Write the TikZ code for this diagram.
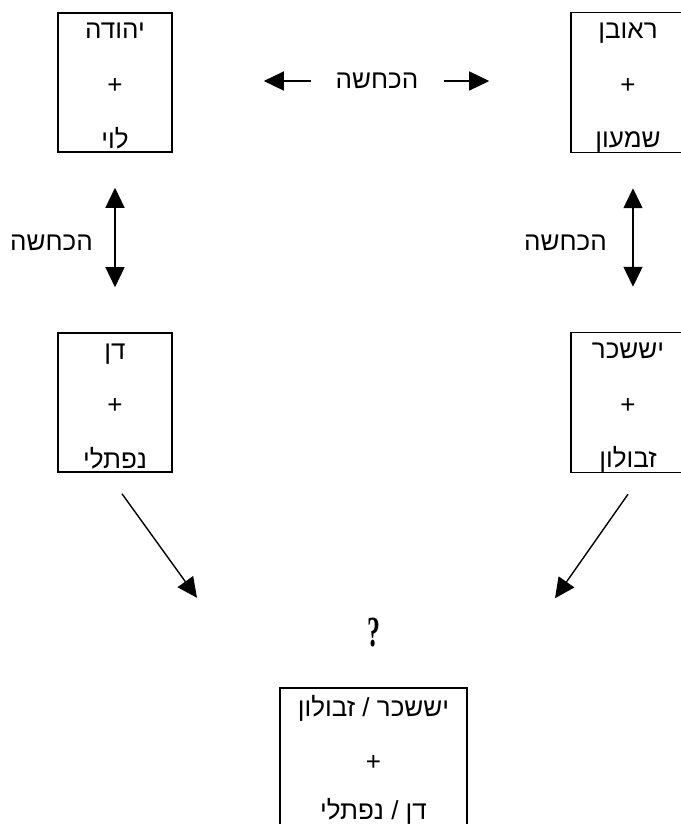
\documentclass[tikz,border=0pt]{standalone}
\usepackage{fontspec}
\setmainfont{Liberation Sans}
\newfontfamily\hebfont[Script=Hebrew]{Liberation Sans}
\newfontfamily\qfont{Liberation Serif}
\TeXXeTstate=1
\usetikzlibrary{arrows.meta,positioning,calc}
\newcommand{\HE}[1]{{\hebfont\beginR #1\endR}}
\newcommand{\GAP}{24.5pt}
\newcommand{\TRIBE}[3][\GAP]{\rule{0pt}{26pt}\HE{#2}\\[\GAP]+\\[#1]\HE{#3}\rule[-4pt]{0pt}{4pt}}

\begin{document}
\begin{tikzpicture}[x=1pt, y=-1pt,
  tribe/.style={draw, line width=1.6pt, minimum width=114pt, minimum height=139pt,
    inner sep=0pt, align=center},
  link/.style={line width=1.4pt, -{Triangle[length=20pt,width=19pt]}},
  both/.style={line width=1.4pt, {Triangle[length=20pt,width=19pt]}-{Triangle[length=20pt,width=19pt]}},
  word/.style={inner sep=0pt}]

  \fontsize{26}{30}\selectfont
  \useasboundingbox (0,0) rectangle (680,824);

  \newcommand\X{513}
  \newcommand\Y{320}

  \node[tribe] (judah) at (115, 82.5) {\TRIBE{יהודה}{לוי}};
  \node[tribe] (reuben) at (115+\X, 82.5) {\TRIBE{ראובן}{שמעון}};
  \node[tribe] (dan) at (115, 82.5+\Y) {\TRIBE{דן}{נפתלי}};
  \node[tribe] (issachar) at (115+\X, 82.5+\Y) {\TRIBE{יששכר}{זבולון}};
  \node[tribe, minimum width=187pt] (merge) at (373.5, 757.5) {\TRIBE[19pt]{יששכר / זבולון}{דן / נפתלי}};

  %% denial between the top pairs
  \node[word] (denial) at ($(judah)!0.5!(reuben)+(5.5,-1.5)$) {\HE{הכחשה}};
  \draw[link, shorten <=24pt, shorten >=91pt] (denial.west) -- (denial.west -| judah.east);
  \draw[link, shorten <=25pt, shorten >=81pt] (denial.east) -- (denial.east -| reuben.west);

  %% denial down each side
  \coordinate (ltop) at (judah.south);
  \coordinate (lbot) at (dan.north);
  \coordinate (rtop) at ([xshift=5pt]reuben.south);
  \coordinate (rbot) at ([xshift=5pt]issachar.north);
  \coordinate (lmid) at ($(ltop)!0.5!(lbot)$);
  \coordinate (rmid) at ($(rtop)!0.5!(rbot)$);
  \draw[both, shorten <=35pt, shorten >=45pt] (ltop) -- (lbot);
  \draw[both, shorten <=35pt, shorten >=45pt] (rtop) -- (rbot);
  \node[word, left=22pt of lmid] (denleft) {\HE{הכחשה}};
  \node[word, left=26pt of rmid] (denright) {\HE{הכחשה}};

  %% towards the open question
  \node[word] (query) at ($(merge.north)+(0,-55)$) {\qfont\bfseries\fontsize{43}{43}\selectfont\scalebox{0.6}[1]{?}};
  \draw[link] ([shift={(7,21)}]dan.south) -- ++(75,104);
  \draw[link] ([shift={(0,21)}]issachar.south) -- ++(-73,104);
\end{tikzpicture}
\end{document}
